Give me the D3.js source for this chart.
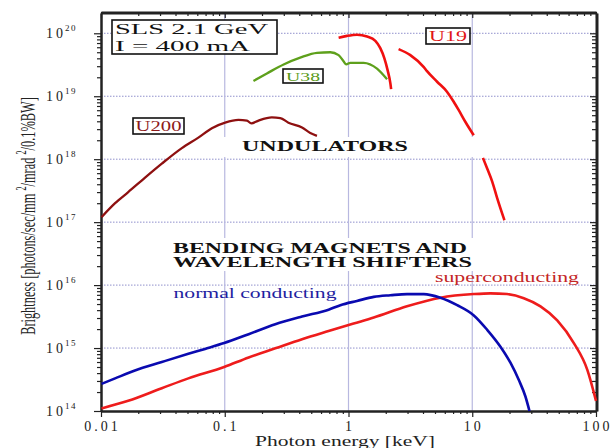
<!DOCTYPE html>
<html>
<head>
<meta charset="utf-8">
<script src="https://cdn.jsdelivr.net/npm/d3@7"></script>
<style>
  body { margin: 0; background: #fff; }
  svg { display: block; font-family: 'Liberation Serif', 'DejaVu Serif', serif; }
  .axis path { stroke: #222; stroke-width: 2; }
  .axis line { stroke: #222; stroke-width: 1.2; }
</style>
</head>
<body>
<svg id="chart" width="610" height="448"></svg>
<script>
// x ticks (keV) and y ticks (brightness)
const xTicks = [0.01, 0.1, 1, 10, 100]
const xTickLabels = ['0.01', '0.1', '1', '10', '100']
const yTicks = [1e14, 1e15, 1e16, 1e17, 1e18, 1e19, 1e20]
const yTickExponents = ['14', '15', '16', '17', '18', '19', '20']

// undulators
const u200Energy = [0.0101, 0.013, 0.0166, 0.0227, 0.031, 0.045, 0.0612, 0.0787, 0.1007, 0.129, 0.151, 0.164, 0.1875, 0.24, 0.281, 0.327, 0.421, 0.491, 0.556]
const u200Brightness = [1.2e17, 2.0e17, 3.0e17, 5.1e17, 8.5e17, 1.5e18, 2.2e18, 3.1e18, 3.8e18, 4.2e18, 4.1e18, 3.7e18, 4.1e18, 4.6e18, 4.5e18, 3.8e18, 3.2e18, 2.6e18, 2.35e18]

const u38Energy = [0.1706, 0.219, 0.299, 0.407, 0.556, 0.713, 0.832, 0.912, 0.959, 1.035, 1.324, 1.70, 2.05]
const u38Brightness = [1.75e19, 2.3e19, 3.2e19, 4.1e19, 4.9e19, 5.0e19, 4.5e19, 3.6e19, 3.2e19, 3.4e19, 3.4e19, 2.75e19, 1.86e19]

// U19 is drawn in pieces, null marks a break
const u19Energy = [0.832, 0.973, 1.172, 1.413, 1.648, 1.807, 1.95, 2.07, 2.18, 2.21, null,
  2.54, 3.16, 4.06, 4.31, 5.20, 6.27, 7.10, 7.78, 8.81, 10.28, null,
  12.2, 13.2, 14.5, 15.9, 18.2]
const u19Brightness = [8.5e19, 9.1e19, 9.5e19, 8.9e19, 7.6e19, 5.8e19, 4.0e19, 2.6e19, 1.6e19, 1.3e19, null,
  5.6e19, 4.5e19, 2.9e19, 2.5e19, 1.7e19, 1.17e19, 8.1e18, 6.0e18, 3.9e18, 2.4e18, null,
  1.05e18, 7.1e17, 4.4e17, 2.4e17, 1.07e17]

// bending magnets / wavelength shifters
const normalEnergy = [0.0101, 0.013, 0.0188, 0.031, 0.0508, 0.0693, 0.0989, 0.156, 0.256, 0.421, 0.69, 0.86, 1.17, 1.6, 2.18, 2.97, 4.06, 5.53, 7.55, 10.3, 13.2, 16.9, 20.4, 23.8, 26.9, 29.0]
const normalBrightness = [2.7e14, 3.3e14, 4.4e14, 6.0e14, 8.1e14, 9.7e14, 1.2e15, 1.66e15, 2.38e15, 3.16e15, 4.07e15, 4.8e15, 5.6e15, 6.5e15, 6.9e15, 7.2e15, 7.2e15, 6.3e15, 4.8e15, 3.3e15, 1.95e15, 1.05e15, 5.8e14, 3.1e14, 1.7e14, 1.0e14]

const superEnergy = [0.0101, 0.0166, 0.031, 0.0508, 0.0989, 0.156, 0.256, 0.421, 0.69, 1.1, 1.6, 2.97, 5.53, 10.3, 14.0, 19.1, 26.1, 35.6, 48.6, 66.4, 85.1, 100]
const superBrightness = [1.1e14, 1.45e14, 2.3e14, 3.3e14, 5.0e14, 7.1e14, 9.9e14, 1.38e15, 1.86e15, 2.45e15, 3.05e15, 4.6e15, 6.3e15, 7.2e15, 7.4e15, 7.2e15, 6.2e15, 4.6e15, 2.75e15, 1.19e15, 4.5e14, 1.45e14]

const svg = d3.select('#chart')
const plot = { left: 101, right: 596, top: 13, bottom: 411 }

const x = d3.scaleLog().domain([0.01, 100]).range([plot.left, plot.right])
const y = d3.scaleLog().domain([1e14, 2.1e20]).range([plot.bottom, plot.top])

const minors = (lo, hi) => {
  const out = []
  for (let p = lo; p < hi; p++) {
    for (let m = 2; m <= 9; m++) out.push(m * Math.pow(10, p))
  }
  return out
}
const xMinor = minors(-2, 2)
const yMinor = minors(14, 20).filter(v => v < 2.1e20)

// grid
svg.append('g')
  .selectAll('line')
  .data(yTicks.slice(1))
  .enter()
  .append('line')
  .attr('x1', plot.left).attr('x2', plot.right)
  .attr('y1', d => y(d)).attr('y2', d => y(d))
  .attr('stroke', '#9090cc')
  .attr('stroke-width', 1)
  .attr('stroke-dasharray', '1.5,1.5')

svg.append('g')
  .selectAll('line')
  .data(xTicks.slice(1, 4))
  .enter()
  .append('line')
  .attr('x1', d => x(d)).attr('x2', d => x(d))
  .attr('y1', plot.top).attr('y2', plot.bottom)
  .attr('stroke', '#b8b8e0')
  .attr('stroke-width', 1.2)

// white bands behind the big headings
svg.append('rect').attr('x', plot.left + 1).attr('y', 137).attr('width', plot.right - plot.left - 2).attr('height', 20).attr('fill', '#fff')
svg.append('rect').attr('x', plot.left + 1).attr('y', 238).attr('width', plot.right - plot.left - 2).attr('height', 33).attr('fill', '#fff')

// axes
const addAxis = (axis, transform) => svg.append('g')
  .attr('class', 'axis')
  .attr('transform', transform)
  .call(axis)

addAxis(d3.axisBottom(x).tickValues(xTicks).tickFormat('').tickSize(6).tickSizeOuter(0), `translate(0,${plot.bottom})`)
addAxis(d3.axisBottom(x).tickValues(xMinor).tickFormat('').tickSize(3).tickSizeOuter(0), `translate(0,${plot.bottom})`)
addAxis(d3.axisBottom(x).tickValues(xTicks).tickFormat('').tickSize(6).tickSizeOuter(0), `translate(0,${plot.top - 1})`)
addAxis(d3.axisBottom(x).tickValues(xMinor).tickFormat('').tickSize(3).tickSizeOuter(0), `translate(0,${plot.top})`)
addAxis(d3.axisLeft(y).tickValues(yTicks).tickFormat('').tickSize(7).tickSizeOuter(0), `translate(${plot.left},0)`)
addAxis(d3.axisLeft(y).tickValues(yMinor).tickFormat('').tickSize(4).tickSizeOuter(0), `translate(${plot.left},0)`)
addAxis(d3.axisLeft(y).tickValues(yTicks).tickFormat('').tickSize(7).tickSizeOuter(0), `translate(${plot.right + 1},0)`)
addAxis(d3.axisLeft(y).tickValues(yMinor).tickFormat('').tickSize(4).tickSizeOuter(0), `translate(${plot.right},0)`)

// tick labels
svg.append('g')
  .selectAll('text')
  .data(xTicks)
  .enter()
  .append('text')
  .attr('x', d => x(d) + 1.5)
  .attr('y', 431)
  .attr('text-anchor', 'middle')
  .attr('font-size', 14)
  .attr('letter-spacing', 3)
  .attr('fill', '#222')
  .text((d, i) => xTickLabels[i])

const yLabels = svg.append('g')
  .selectAll('text')
  .data(yTicks)
  .enter()
  .append('text')
  .attr('x', 46)
  .attr('y', d => y(d) + 5)
  .attr('fill', '#222')
yLabels.append('tspan').attr('font-size', 14).attr('letter-spacing', 3).text('10')
yLabels.append('tspan').attr('font-size', 9).attr('letter-spacing', 1.5).attr('dy', -7).attr('dx', -1).text((d, i) => yTickExponents[i])

// axis titles
svg.append('text')
  .attr('x', 255).attr('y', 446)
  .attr('font-size', 15)
  .attr('textLength', 180).attr('lengthAdjust', 'spacingAndGlyphs')
  .attr('fill', '#222')
  .text('Photon energy [keV]')

const yTitle = svg.append('text')
  .attr('text-anchor', 'middle')
  .attr('font-size', 21)
  .attr('fill', '#222')
yTitle.append('tspan').text('Brightness [photons/sec/mm ')
yTitle.append('tspan').attr('font-size', 14).attr('dy', -9).text('2')
yTitle.append('tspan').attr('dy', 9).text('/mrad ')
yTitle.append('tspan').attr('font-size', 14).attr('dy', -9).text('2')
yTitle.append('tspan').attr('dy', 9).text('/0.1%BW]')
const yTitleLen = yTitle.node().getComputedTextLength()
yTitle.attr('transform', `translate(35,216) rotate(-90) scale(${238 / yTitleLen},1)`)

// curves
const line = d3.line()
  .defined(d => d[0] !== null)
  .x(d => x(d[0]))
  .y(d => y(d[1]))
  .curve(d3.curveMonotoneX)

const series = [
  { energy: u200Energy, brightness: u200Brightness, color: '#8e1010', width: 2.3 },
  { energy: u38Energy, brightness: u38Brightness, color: '#5ea01c', width: 2.3 },
  { energy: u19Energy, brightness: u19Brightness, color: '#f01010', width: 2.6 },
  { energy: superEnergy, brightness: superBrightness, color: '#ee1c1c', width: 2.6 },
  { energy: normalEnergy, brightness: normalBrightness, color: '#0a0ab0', width: 2.6 }
]

series.forEach(s => {
  svg.append('path')
    .datum(s.energy.map((e, i) => [e, s.brightness[i]]))
    .attr('d', line)
    .attr('fill', 'none')
    .attr('stroke', s.color)
    .attr('stroke-width', s.width)
    .attr('stroke-linejoin', 'round')
})

// annotations
const box = (bx, by, bw, bh, lines, color, size) => {
  svg.append('rect')
    .attr('x', bx).attr('y', by).attr('width', bw).attr('height', bh)
    .attr('fill', '#fff').attr('stroke', '#111').attr('stroke-width', 1.6)
  const t = svg.append('text')
    .attr('font-size', size)
    .attr('fill', color)
  lines.forEach(l => {
    t.append('tspan')
      .attr('x', l.x).attr('y', l.y)
      .attr('textLength', l.w).attr('lengthAdjust', 'spacingAndGlyphs')
      .text(l.text)
  })
}

box(112, 20, 165, 34, [
  { text: 'SLS 2.1 GeV', x: 115, y: 34, w: 153 },
  { text: 'I = 400 mA', x: 115, y: 51, w: 135 }
], '#111', 15.5)
box(133, 118, 51, 16, [{ text: 'U200', x: 135.5, y: 131, w: 46 }], '#8e1a1a', 14)
box(283, 69, 40, 14, [{ text: 'U38', x: 286, y: 80.5, w: 34 }], '#5a9a18', 13)
box(426, 28, 44, 16, [{ text: 'U19', x: 429, y: 41, w: 38 }], '#e01515', 14)

const heading = (text, hx, hy, w, color, bold, size) => svg.append('text')
  .attr('x', hx).attr('y', hy)
  .attr('font-size', size)
  .attr('font-weight', bold ? 'bold' : 'normal')
  .attr('textLength', w).attr('lengthAdjust', 'spacingAndGlyphs')
  .attr('fill', color)
  .text(text)

heading('UNDULATORS', 242, 150.5, 166, '#111', true, 15)
heading('BENDING MAGNETS AND', 173, 253, 294, '#111', true, 14)
heading('WAVELENGTH SHIFTERS', 173, 267, 299, '#111', true, 14)
heading('normal conducting', 173.5, 298, 163, '#1e1ea0', false, 15)
heading('superconducting', 435, 282, 144, '#c42626', false, 15)
</script>
</body>
</html>
